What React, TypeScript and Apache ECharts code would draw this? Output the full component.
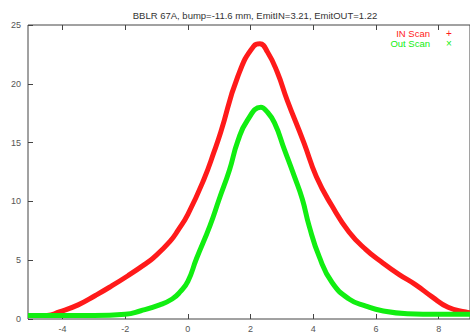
import React, { useEffect, useRef } from "react";
import * as echarts from "echarts";

const titleText = "BBLR 67A, bump=-11.6 mm, EmitIN=3.21, EmitOUT=1.22";
const seriesNames = ["IN Scan", "Out Scan"];
const xTicks = [-4, -2, 0, 2, 4, 6, 8];

const inX = [-5.1, -4.5, -4.1, -3.5, -2.95, -2.5, -1.9, -1.4, -1.1, -0.57, -0.3, 0, 0.5, 0.86, 1.05, 1.59, 2.1, 2.3, 2.54, 2.85, 3.17, 3.7, 4.1, 4.6, 5.14, 5.68, 6.2, 6.73, 7.27, 7.78, 8.3, 8.86, 9.1];
const inY = [0.3, 0.3, 0.6, 1.2, 2.0, 2.7, 3.7, 4.6, 5.2, 6.6, 7.6, 8.9, 11.8, 14.4, 15.9, 20.6, 23.2, 23.4, 22.7, 21.0, 18.6, 15.0, 12.1, 9.6, 7.4, 5.9, 4.8, 3.8, 2.9, 1.9, 1.0, 0.6, 0.5];

const outX = [-5.1, -4, -3, -2, -1.5, -0.9, -0.5, -0.25, 0, 0.27, 0.7, 1.0, 1.33, 1.59, 1.9, 2.33, 2.5, 2.76, 3.08, 3.4, 3.65, 3.87, 4.19, 4.6, 5.14, 5.68, 6.2, 7, 8, 9.1];
const outY = [0.3, 0.3, 0.3, 0.4, 0.7, 1.2, 1.7, 2.3, 3.2, 5.1, 7.9, 10.2, 12.7, 15.1, 16.9, 18.0, 17.7, 16.7, 14.4, 12.1, 10.2, 7.9, 5.3, 3.1, 1.7, 1.1, 0.7, 0.45, 0.4, 0.4];

const RED = "#ff1a1a";
const GREEN = "#11ee11";
const AXIS = "#444";
const FONT = "Liberation Sans, Arial, sans-serif";

export default function App() {
  const ref = useRef<HTMLDivElement>(null);
  useEffect(() => {
    if (!ref.current) return;
    const chart = echarts.init(ref.current, null, { renderer: "svg" });
    const inData = inX.map((x, i) => [x, inY[i]]);
    const outData = outX.map((x, i) => [x, outY[i]]);
    const axisCommon = {
      type: "value",
      min: -5.1,
      max: 9,
      splitLine: { show: false },
      axisLine: { show: false },
    };
    chart.setOption({
      animation: false,
      backgroundColor: "#fff",
      title: {
        text: titleText,
        left: 250,
        textAlign: "center",
        top: 5,
        textStyle: { fontSize: 9.5, fontWeight: "normal", color: "#333", fontFamily: FONT },
      },
      grid: { left: 28, top: 25, width: 444, height: 295, show: true, borderColor: AXIS, borderWidth: 1, backgroundColor: "transparent" },
      xAxis: [
        {
          ...axisCommon,
          position: "bottom",
          axisTick: { show: true, inside: true, length: 5, customValues: xTicks, lineStyle: { color: AXIS } },
          axisLabel: { show: true, customValues: xTicks, margin: 5, fontSize: 9, color: "#555", fontFamily: FONT },
        },
        {
          ...axisCommon,
          position: "top",
          axisTick: { show: true, inside: true, length: 5, customValues: xTicks, lineStyle: { color: AXIS } },
          axisLabel: { show: false },
        },
      ],
      yAxis: {
        type: "value",
        min: 0,
        max: 25,
        interval: 5,
        splitLine: { show: false },
        axisLine: { show: false, onZero: false },
        axisTick: { show: true, inside: true, length: 5, lineStyle: { color: AXIS } },
        axisLabel: { margin: 7, fontSize: 9, color: "#555", fontFamily: FONT },
      },
      series: [
        {
          name: seriesNames[0],
          type: "line",
          data: inData,
          smooth: 0.5,
          showSymbol: false,
          lineStyle: { color: RED, width: 5 },
          z: 2,
        },
        {
          name: seriesNames[1],
          type: "line",
          data: outData,
          smooth: 0.5,
          showSymbol: false,
          lineStyle: { color: GREEN, width: 5 },
          z: 3,
        },
      ],
      graphic: [
        { type: "text", right: 40, top: 28, style: { text: seriesNames[0], fill: RED, fontSize: 9.5, fontFamily: FONT } },
        { type: "text", right: 40, top: 38, style: { text: seriesNames[1], fill: GREEN, fontSize: 9.5, fontFamily: FONT } },
        { type: "text", left: 446, top: 28, style: { text: "+", fill: RED, fontSize: 10, fontFamily: FONT } },
        { type: "text", left: 446, top: 38, style: { text: "×", fill: GREEN, fontSize: 10, fontFamily: FONT } },
      ],
    });
    return () => chart.dispose();
  }, []);
  return <div ref={ref} style={{ width: 470, height: 333, position: "absolute", left: 0, top: 0 }} />;
}
